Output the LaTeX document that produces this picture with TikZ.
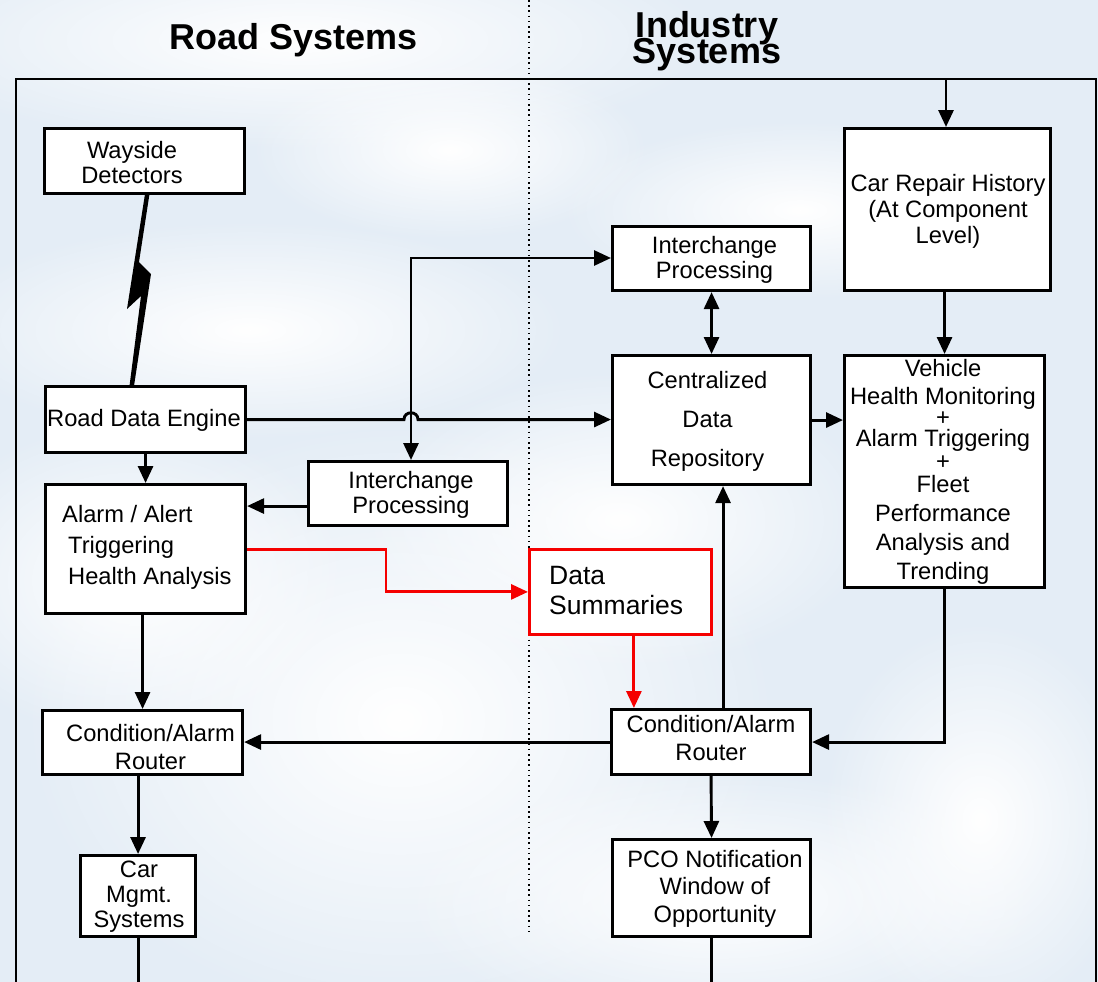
\documentclass[tikz,border=0pt]{standalone}
\usepackage{fontspec}
\setmainfont{Liberation Sans}
\usetikzlibrary{arrows.meta,fadings,calc}
\definecolor{bgblue}{RGB}{228,237,246}
\definecolor{redline}{RGB}{245,0,0}
\tikzfading[name=softblob, inner color=transparent!0, outer color=transparent!100]
\newcommand\drawbox[6][]{\node[boxst,#1,anchor=north west,minimum width={(#4)-(#2)},minimum height={(#5)-(#3)}] (#6) at (#2,#3) {};}
\begin{document}
\begin{tikzpicture}[x=1pt,y=-1pt,
  boxst/.style={draw=black,line width=3.1pt,fill=white,inner sep=0pt},
  txt/.style={font=\fontsize{23.7}{25}\selectfont,align=center,inner sep=0pt},
  titlest/.style={font=\fontsize{36}{36}\selectfont\bfseries,inner sep=0pt,anchor=base},
  conn/.style={line width=2.9pt},
  arr/.style={line width=2.9pt,-{Triangle[length=17pt,width=15pt]}},
  dblarr/.style={line width=2.9pt,{Triangle[length=17pt,width=15pt]}-{Triangle[length=17pt,width=15pt]}},
  redarr/.style={line width=2.9pt,draw=redline,-{Triangle[length=17pt,width=15pt]}}]
\useasboundingbox (0,0) rectangle (1098,982);
% background
\fill[bgblue] (0,0) rectangle (1098,982);
\foreach \cx/\cy/\rx/\ry in {300/40/420/110, 250/330/320/110, 400/720/380/300, 720/900/320/130, 130/580/220/160, 800/210/240/90, 620/520/260/150, 980/820/160/200, 450/150/200/90}
  \fill[white,path fading=softblob] (\cx,\cy) ellipse ({\rx pt} and {\ry pt});
% dotted divider
\draw[line width=1.6pt,dash pattern=on 1.6pt off 3.6pt] (529,0) -- (529,935);
% frame
\draw[line width=2.9pt] (16,985) -- (16,79) -- (1096,79) -- (1096,985);
% titles
\node[titlest] (title-road) at (294,50) {Road Systems};
\node[titlest] (title-ind1) at (707,38) {Industry};
\node[titlest] (title-ind2) at (707,64) {Systems};
% boxes
\drawbox{43}{127}{243}{192}{wd}
\drawbox{44}{385}{244}{451}{rde}
\drawbox{44}{483}{244}{612}{al}
\drawbox{307}{460}{506}{524}{ipl}
\drawbox{41}{709}{241}{773}{lc}
\drawbox{79}{854}{194}{935}{cm}
\drawbox{611}{225}{809}{289}{ipt}
\drawbox{611}{354}{809}{483}{cdr}
\drawbox{843}{127}{1049}{289}{crh}
\drawbox{843}{354}{1043}{586}{vh}
\drawbox[draw=redline,line width=2.8pt]{528}{548}{710}{633}{ds}
\drawbox{610}{708}{809}{773}{rc}
\drawbox{611}{838}{809}{935}{pco}
% texts
\node[txt] (t-wd) at (132,163) {Wayside\\Detectors};
\node[txt] (t-rde) at (144,420) {Road Data Engine};
\node[txt,align=left,anchor=west,font=\fontsize{23.7}{31}\selectfont] (t-al) at (62,547) {Alarm / Alert\\\hspace*{6pt}Triggering\\\hspace*{6pt}Health Analysis};
\node[txt] (t-ipl) at (411,495) {Interchange\\Processing};
\node[txt,font=\fontsize{23.7}{28}\selectfont] (t-lc) at (150.5,747) {Condition/Alarm\\Router};
\node[txt] (t-cm) at (139,897) {Car\\Mgmt.\\Systems};
\node[txt] (t-ipt) at (714.5,259.5) {Interchange\\Processing};
\node[txt,font=\fontsize{23.7}{39}\selectfont] (t-cdr) at (707.5,421) {Centralized\\Data\\Repository};
\node[txt,font=\fontsize{23.7}{26}\selectfont] (t-crh) at (948,211) {Car Repair History\\(At Component\\Level)};
\foreach \yy/\lbl [count=\i] in {368/Vehicle, 396/Health Monitoring, 417/+, 438/Alarm Triggering, 461/+, 484/Fleet, 513/Performance, 542/Analysis and, 571/Trending}
  \node[txt,anchor=base] (t-vh\i) at (943,\yy+8.5) {\lbl};
\node[txt,align=left,anchor=west,font=\fontsize{26.5}{30}\selectfont] (t-ds) at (549,591) {Data\\Summaries};
\node[txt,font=\fontsize{23.7}{28}\selectfont] (t-rc) at (711,738) {Condition/Alarm\\Router};
\node[txt,font=\fontsize{23.7}{27.5}\selectfont] (t-pco) at (715,888.5) {PCO Notification\\Window of\\Opportunity};
% lightning bolt
\fill[black] (145,194) -- (149.5,194) -- (139,262) -- (151,274) -- (134,386) -- (129.5,386) -- (141,296) -- (127,309) -- cycle;
% coordinates
\coordinate (jn) at (411,258);
\coordinate (rk) at (386,0);
\coordinate (topin) at (946,79);
\coordinate (bot) at (0,985);
\coordinate (hopL) at ($(jn |- rde.east)+(-7,0)$);
\coordinate (hopR) at ($(jn |- rde.east)+(7,0)$);
% connectors
\draw[arr] (rde.south) -- (al.north);
\draw[arr] (rde.east) -- (hopL) .. controls ([yshift=9pt]hopL) and ([yshift=9pt]hopR) .. (hopR) -- (cdr.west |- rde.east);
\draw[dblarr] (jn |- ipl.north) -- (jn) -- (jn -| ipt.west);
\draw[arr] ([yshift=-12.5pt]ipl.west) -- ([yshift=-12.5pt]ipl.west -| al.east);
\draw[redarr] (al.east) -| (rk |- ds.west) -- (ds.west);
\draw[redarr] ([xshift=13.5pt]ds.south) -- ([xshift=13.5pt]ds.south |- rc.north);
\draw[dblarr] (ipt.south) -- (cdr.north);
\draw[arr] (cdr.east) -- (cdr.east -| vh.west);
\draw[arr] (vh.north |- crh.south) -- (vh.north);
\draw[arr] (topin) -- (topin |- crh.north);
\draw[arr] (vh.south) |- (rc.east);
\draw[arr] ([xshift=12pt]rc.north) -- ([xshift=12pt]rc.north |- cdr.south);
\draw[arr] (rc.west) -- (rc.west -| lc.east);
\draw[arr] ([xshift=-3pt]al.south) -- ([xshift=-3pt]al.south |- lc.north);
\draw[arr] (cm.north |- lc.south) -- (cm.north);
\draw[conn] (cm.south) -- (cm.south |- bot);
\draw[arr] (rc.south) -- (pco.north);
\draw[conn] (pco.south) -- (pco.south |- bot);
\end{tikzpicture}
\end{document}
